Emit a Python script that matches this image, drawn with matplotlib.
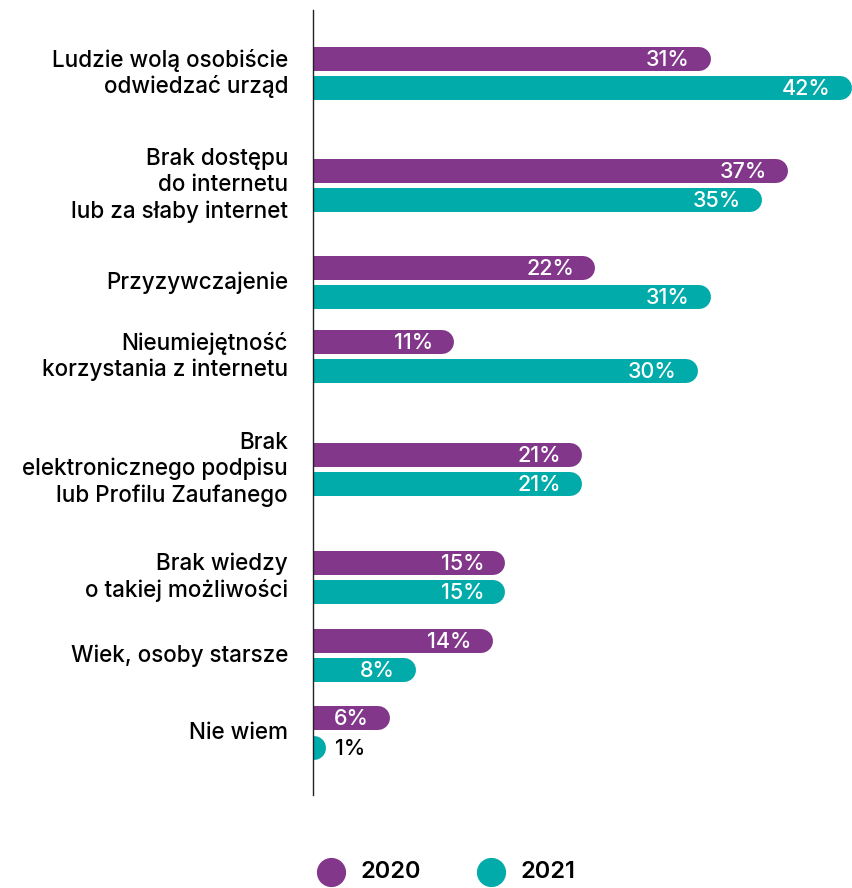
import matplotlib
matplotlib.use("Agg")
import matplotlib.pyplot as plt
from matplotlib.lines import Line2D

plt.rcParams['font.family'] = ['Inter', 'DejaVu Sans']

# ---- data ----
categories = [
    "Ludzie wolą osobiście\nodwiedzać urząd",
    "Brak dostępu\ndo internetu\nlub za słaby internet",
    "Przyzywczajenie",
    "Nieumiejętność\nkorzystania z internetu",
    "Brak\nelektronicznego podpisu\nlub Profilu Zaufanego",
    "Brak wiedzy\no takiej możliwości",
    "Wiek, osoby starsze",
    "Nie wiem",
]
values_2020 = [31, 37, 22, 11, 21, 15, 14, 6]
values_2021 = [42, 35, 31, 30, 21, 15, 8, 1]
series_labels = ["2020", "2021"]

# ---- layout / style ----
W, H = 852, 888
DPI = 100
color_2020 = "#82378B"
color_2021 = "#00ABAA"
group_centers = [73.5, 185.5, 282.5, 356.5, 469.5, 577.5, 655.5, 733]  # pixel y
offset = 14.7
ax_left, ax_right, ax_top, ax_bottom = 313, 852, 10, 795
px_per_unit = 12.83
bar_h_px = 24
r_data = (bar_h_px / 2) / px_per_unit

fig = plt.figure(figsize=(W / DPI, H / DPI), dpi=DPI)
ax = fig.add_axes([ax_left / W, (H - ax_bottom) / H,
                   (ax_right - ax_left) / W, (ax_bottom - ax_top) / H])
ax.set_xlim(0, (ax_right - ax_left) / px_per_unit)
ax.set_ylim(ax_bottom, ax_top)
for s in ["top", "right", "bottom"]:
    ax.spines[s].set_visible(False)
ax.spines["left"].set_color("#222222")
ax.spines["left"].set_linewidth(1.0)
ax.set_xticks([])
ax.set_yticks([])

lw_pt = bar_h_px * 72 / DPI
val_fs = 15.5
lab_fs = 16.2

for i, cat in enumerate(categories):
    yc = group_centers[i]
    for j, (vals, col) in enumerate([(values_2020, color_2020), (values_2021, color_2021)]):
        v = vals[i]
        y = yc - offset if j == 0 else yc + offset
        ax.plot([0, max(v - r_data, 0)], [y, y], color=col, lw=lw_pt,
                solid_capstyle='round', clip_on=True)
        if v >= 4:
            ax.text(v - 1.65, y + 1, f"{v}%", color="white", fontsize=val_fs,
                    ha="right", va="center", fontweight="medium")
        else:
            ax.text(v + 0.75, y + 1, f"{v}%", color="black", fontsize=val_fs,
                    ha="left", va="center", fontweight="medium")
    ax.text(-25 / px_per_unit, yc, cat, ha="right", va="center", fontsize=lab_fs,
            color="black", linespacing=1.22, clip_on=False, fontweight="medium")

# legend
leg_y = 1 - 872 / H
for xpx, col, lab in [(331, color_2020, series_labels[0]), (491, color_2021, series_labels[1])]:
    fig.add_artist(Line2D([xpx / W], [leg_y], marker='o', markersize=20,
                          color=col, linestyle='none', transform=fig.transFigure))
    fig.text((xpx + 29) / W, leg_y, lab, ha="left", va="center", fontsize=17,
             color="black", fontweight="semibold")

fig.savefig("out.png", dpi=DPI)
